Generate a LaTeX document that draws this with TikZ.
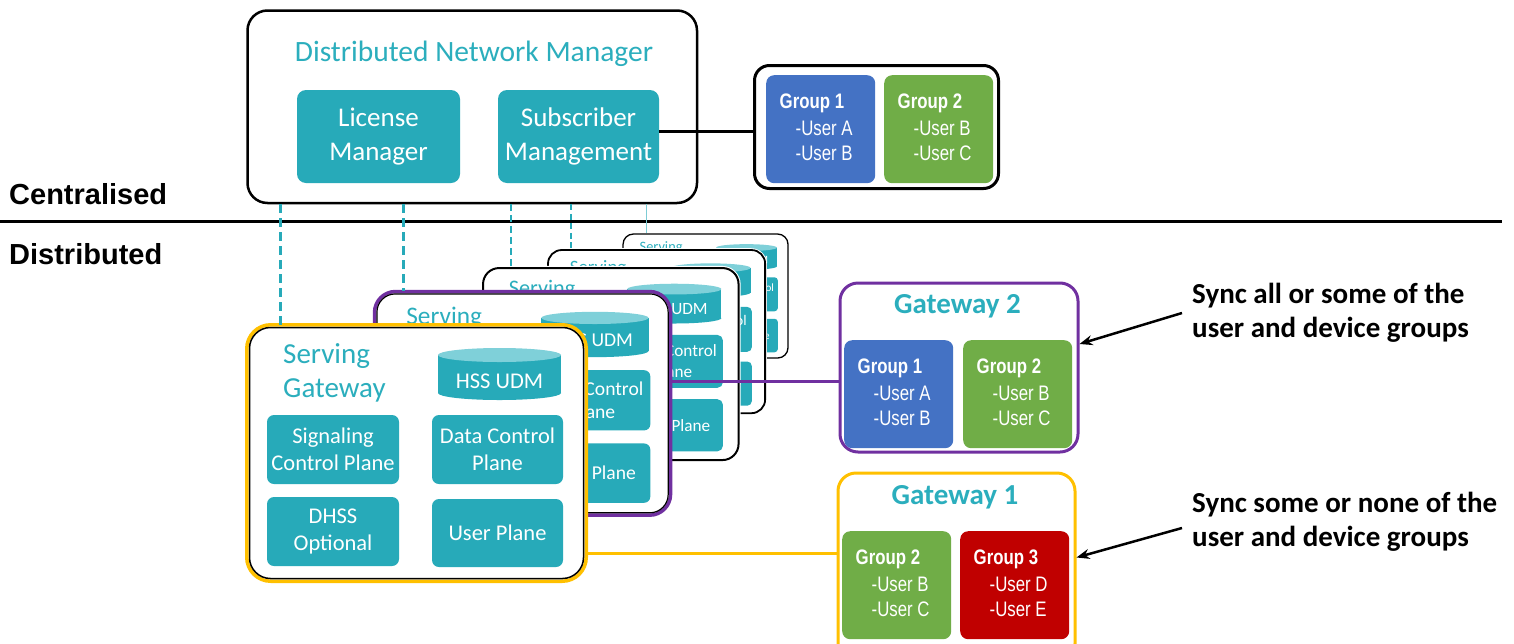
\documentclass[tikz,border=0pt]{standalone}
\usepackage{fontspec}
\setmainfont{Carlito}
\newfontfamily\arialf{Liberation Sans}
\newfontfamily\grpfont[FakeStretch=0.8]{Liberation Sans}
\usetikzlibrary{arrows.meta,calc}
\definecolor{tealc}{HTML}{27AAB9}
\definecolor{tealtext}{HTML}{2BAEBD}
\definecolor{teallight}{HTML}{7FD0D9}
\definecolor{gblue}{HTML}{4472C4}
\definecolor{ggreen}{HTML}{70AD47}
\definecolor{gred}{HTML}{C00000}
\definecolor{gpurple}{HTML}{7030A0}
\definecolor{ggold}{HTML}{FFC000}
\newcommand\fs[2]{\fontsize{#1}{#2}\selectfont}
\tikzset{
  tbox/.style={fill=tealc, rounded corners=9pt, inner sep=0pt, text=white, align=center},
  cbox/.style={fill=tealc, inner sep=0pt, text=white, align=center, font=\fs{22.5}{27}},
  cardtitle/.style={font=\fs{29}{34}, text=tealtext, inner sep=0pt},
  grpbox/.style={minimum width=109pt, minimum height=108pt, inner sep=0pt, rounded corners=8pt},
  grptitle/.style={font=\grpfont\bfseries\fs{21}{25}, text=white, inner sep=0pt},
  grpuser/.style={font=\grpfont\fs{21}{25}, text=white, inner sep=0pt},
  gwtitle/.style={font=\bfseries\fs{29}{34}, text=tealtext, inner sep=0pt},
  synctext/.style={font=\bfseries\fs{29}{34}, align=left, inner sep=0pt},
  sidelab/.style={font=\arialf\bfseries\fs{29}{34}, inner sep=0pt},
  dl/.style={tealc, dash pattern=on 9pt off 5pt},
  syncarrow/.style={line width=2.5pt, -{Stealth[length=13pt,width=10pt]}},
}
\newcommand\gwcard[7]{%
 \pgfmathsetlengthmacro\cardro{#4*24pt}%
 \pgfmathsetlengthmacro\cardri{#4*21pt}%
 \pgfmathsetlengthmacro\cardrb{#4*7pt}%
 \begin{scope}[shift={(#2,#3)},scale=#4,transform shape]
 \node[draw=#5, line width=3.5pt, fill=white, rounded corners=\cardro, minimum width=339.5pt, minimum height=256.5pt, inner sep=0pt] (#1) at (171.5,130) {};
 \node[draw=black, line width=#6, rounded corners=\cardri, minimum width=334pt, minimum height=251pt, inner sep=0pt] (#1-in) at (171.5,130) {};
 \node[cardtitle, anchor=base west] (#1-t1) at (38,40) {Serving};
 \node[cardtitle, anchor=base west] (#1-t2) at (38,74) {Gateway};
 \fill[tealc] (193,32) rectangle (316,70);
 \fill[tealc] (254.5,70) ellipse [x radius=61.5, y radius=7];
 \fill[teallight] (254.5,32) ellipse [x radius=61.5, y radius=7];
 \node[font=\fs{22.5}{27}, text=white, inner sep=0pt, anchor=base] (#1-hss) at (254.5,65) {HSS UDM};
 \node[cbox, rounded corners=\cardrb, minimum width=132pt, minimum height=69pt] (#1-sig) at (88,126.5) {Signaling\\Control Plane};
 \node[cbox, rounded corners=\cardrb, minimum width=131pt, minimum height=69pt] (#1-dat) at (252.5,126.5) {Data Control\\Plane};
 \node[cbox, rounded corners=\cardrb, minimum width=132pt, minimum height=69pt] (#1-dhss) at (88,208.5) {DHSS\\Optional};
 \node[cbox, rounded corners=\cardrb, minimum width=131pt, minimum height=68pt] (#1-up) at (252.5,210) {User Plane};
 \coordinate (#1-top) at (#7,1.5);
 \end{scope}}
\newcommand\grp[7]{%
 \node[grpbox, fill=#4, anchor=north west] (#1) at (#2,#3) {};
 \node[grptitle, anchor=base west] (#1-t) at ([xshift=13.5pt,yshift=-33.5pt]#1.north west) {#5};
 \node[grpuser, anchor=base west] (#1-a) at ([xshift=29.5pt,yshift=-60pt]#1.north west) {-#6};
 \node[grpuser, anchor=base west] (#1-b) at ([xshift=29.5pt,yshift=-85pt]#1.north west) {-#7};}
\begin{document}
\begin{tikzpicture}[x=1pt,y=-1pt]
\useasboundingbox (0,0) rectangle (1514,643);
\clip (0,0) rectangle (1514,643);
% separator and side labels
\coordinate (sepL) at (0,221);
\coordinate (sepR) at (1502,221);
\draw[line width=3pt] (sepL) -- (sepR);
\node[sidelab, anchor=base west] (cent) at (9,204) {Centralised};
\node[sidelab, anchor=base west] (dist) at (9,264) {Distributed};
% distributed network manager
\node[draw, line width=2.5pt, rounded corners=20pt, minimum width=449.5pt, minimum height=192.5pt, anchor=north west, inner sep=0pt, fill=white] (dnm) at (246.25,9.25) {};
\node[font=\fs{29.5}{34}, text=tealtext, inner sep=0pt, anchor=base] (dnm-t) at (474,61) {Distributed Network Manager};
\node[tbox, font=\fs{27}{34}, minimum width=163pt, minimum height=93pt] (lic) at (378.5,136.5) {License\\Manager};
\node[tbox, font=\fs{27}{34}, minimum width=161pt, minimum height=93pt] (sub) at (578.5,136.5) {Subscriber\\Management};
% top group box
\node[draw, line width=3pt, rounded corners=15pt, minimum width=244pt, minimum height=123pt, inner sep=0pt] (tgrp) at (876.5,127) {};
\grp{tg1}{766}{75}{gblue}{Group 1}{User A}{User B}
\grp{tg2}{884}{75}{ggreen}{Group 2}{User B}{User C}
\draw[line width=3pt] ([yshift=5.5pt]sub.east) -- ([yshift=5.5pt]sub.east -| tgrp.west);
% stacked serving gateways
\gwcard{card5}{620.8}{231.8}{0.494}{none}{1.3pt}{51}
\gwcard{card4}{545.1}{247.1}{0.65}{none}{1.8pt}{40}
\gwcard{card3}{479.6}{264.6}{0.765}{none}{2pt}{41}
\gwcard{card2}{373}{290}{0.872}{gpurple}{1.2pt}{35}
\gwcard{card1}{245}{323}{1}{ggold}{1.5pt}{35}
% dashed links
\draw[dl, line width=3pt] (dnm.south -| card1-top) -- (card1-top);
\draw[dl, line width=2.6pt] (dnm.south -| card2-top) -- (card2-top);
\draw[dl, line width=2.2pt, dash pattern=on 7pt off 4pt] (dnm.south -| card3-top) -- (card3-top);
\draw[dl, line width=1.6pt, dash pattern=on 6pt off 3.5pt] (dnm.south -| card4-top) -- (card4-top);
\draw[tealc!60, line width=1pt] (dnm.south -| card5-top) -- (card5-top);
% gateways
\node[draw=gpurple, line width=3pt, rounded corners=18pt, minimum width=238pt, minimum height=169pt, inner sep=0pt, fill=white, anchor=north west] (gw2) at (838.5,281.5) {};
\node[gwtitle, anchor=base] (gw2-t) at (957.5,313) {Gateway 2};
\grp{g21}{844}{340}{gblue}{Group 1}{User A}{User B}
\grp{g22}{963}{340}{ggreen}{Group 2}{User B}{User C}
\node[draw=ggold, line width=3pt, rounded corners=18pt, minimum width=237pt, minimum height=188.5pt, inner sep=0pt, fill=white, anchor=north west] (gw1) at (836.5,471.5) {};
\node[gwtitle, anchor=base] (gw1-t) at (955,504) {Gateway 1};
\grp{g12}{842}{531}{ggreen}{Group 2}{User B}{User C}
\grp{g13}{960}{531}{gred}{Group 3}{User D}{User E}
% links from gateways
\draw[gpurple, line width=3pt] ([yshift=21.5pt]card2.east) -- ([yshift=21.5pt]card2.east -| gw2.west);
\draw[ggold, line width=3pt] ([yshift=-100pt]card1.east) -- ([yshift=-100pt]card1.east -| gw1.west);
% sync notes
\node[synctext, anchor=west] (sync2) at (1192,313) {Sync all or some of the\\user and device groups};
\node[synctext, anchor=west] (sync1) at (1192,522) {Sync some or none of the\\user and device groups};
\draw[syncarrow] ([xshift=-10pt]sync2.west) -- ([yshift=23.5pt]gw2.east);
\draw[syncarrow] ([xshift=-10pt,yshift=-6pt]sync1.west) -- ([yshift=9.75pt]gw1.east);
\end{tikzpicture}
\end{document}
